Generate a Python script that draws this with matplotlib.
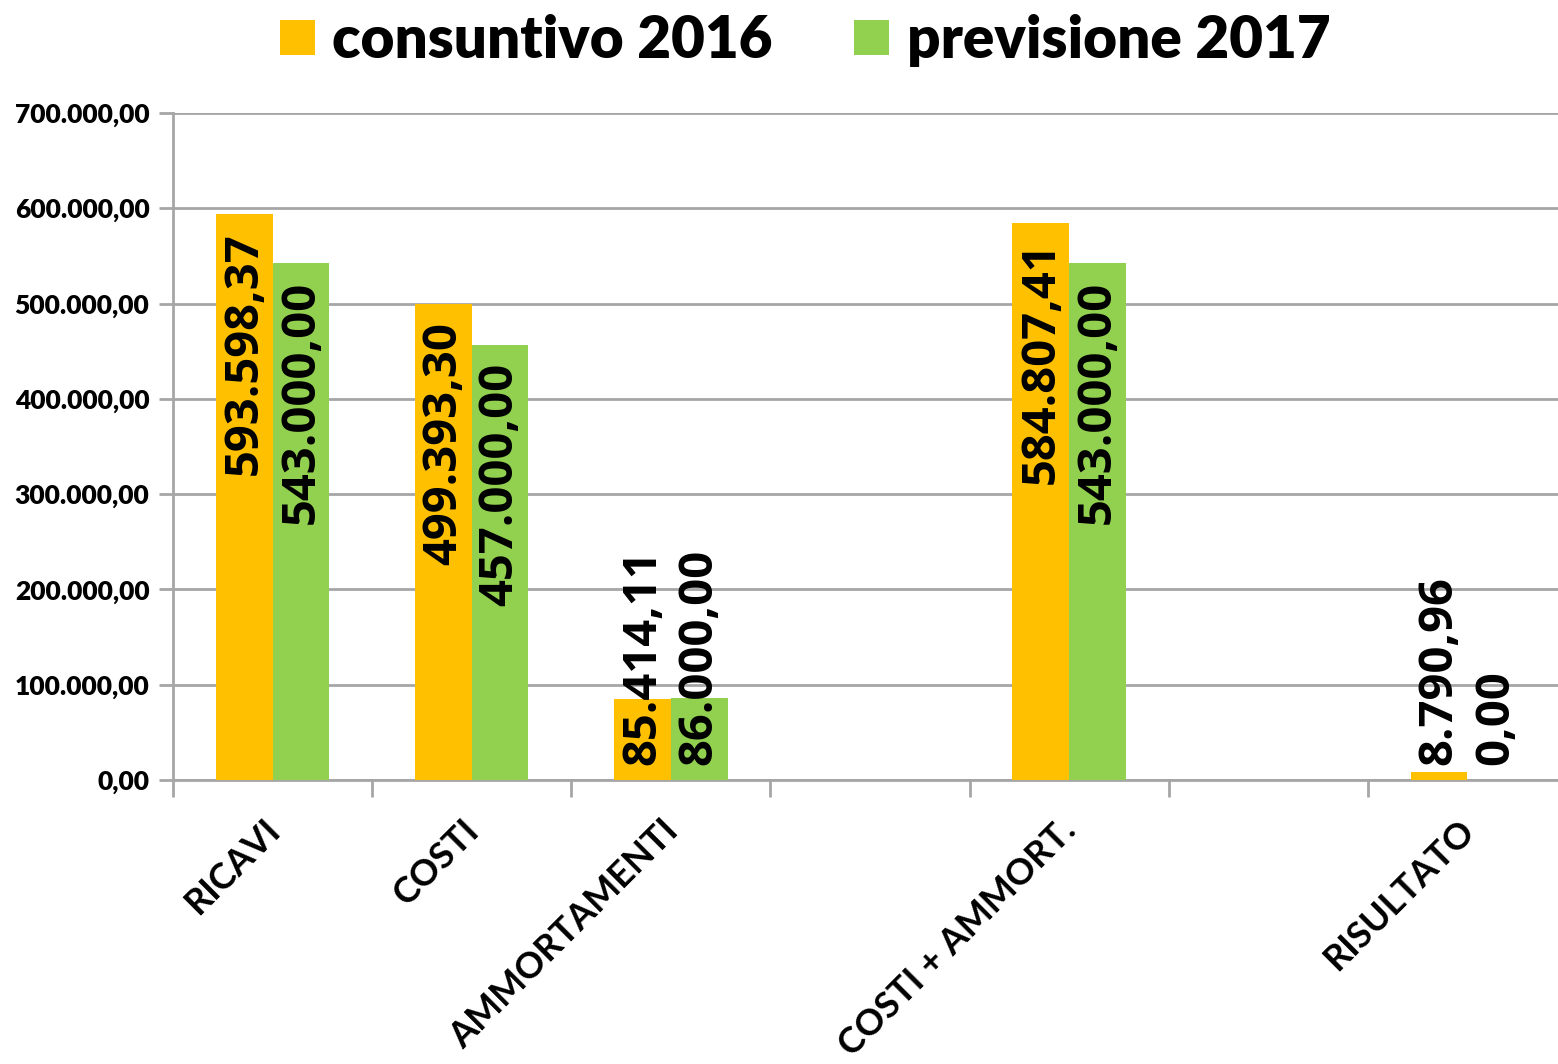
import matplotlib
matplotlib.use("Agg")
import matplotlib.pyplot as plt
from matplotlib.patches import Patch
from matplotlib.ticker import FuncFormatter, FixedLocator
from matplotlib.transforms import ScaledTranslation
import numpy as np

categories = ["RICAVI", "COSTI", "AMMORTAMENTI", "", "COSTI + AMMORT.", "", "RISULTATO"]
consuntivo_2016 = [593598.37, 499393.30, 85414.11, None, 584807.41, None, 8790.96]
previsione_2017 = [543000.00, 457000.00, 86000.00, None, 543000.00, None, 0.00]
series_names = ["consuntivo 2016", "previsione 2017"]
colors = ["#FFC000", "#92D050"]
yticks = [0, 100000, 200000, 300000, 400000, 500000, 600000, 700000]

def it_fmt(v):
    s = f"{v:,.2f}"
    return s.replace(",", "X").replace(".", ",").replace("X", ".")

FONT = "Lato"
LABFONT = "Open Sans"
GRID = "#A6A6A6"

fig = plt.figure(figsize=(15.58, 10.64), dpi=100)
ax = fig.add_axes([173/1558, 1-780/1064, (1567-173)/1558, (780-113)/1064])

x = np.arange(len(categories))
w = 0.285
bars_all = []
for i, (vals, col) in enumerate(zip([consuntivo_2016, previsione_2017], colors)):
    xs = [xi for xi, v in zip(x, vals) if v is not None]
    vs = [v for v in vals if v is not None]
    offs = -w/2 if i == 0 else w/2
    b = ax.bar(np.array(xs) + offs, vs, width=w, color=col, zorder=3)
    bars_all.append((b, vs))

ax.set_xlim(-0.5, len(categories) - 0.5)
ax.set_ylim(0, 700000)
ax.set_yticks(yticks)
ax.yaxis.set_major_formatter(FuncFormatter(lambda v, p: it_fmt(v)))
ax.grid(axis="y", color=GRID, linewidth=2, zorder=0)
ax.set_axisbelow(True)

ax.set_xticks(x)
ax.set_xticklabels(categories, rotation=45, ha="right", rotation_mode="anchor",
                   fontsize=26, fontweight="bold", family=FONT)
ax.tick_params(axis="x", which="major", length=0, pad=24)
shift = ScaledTranslation(-10/100, 0, fig.dpi_scale_trans)
for lab in ax.get_xticklabels():
    lab.set_transform(lab.get_transform() + shift)
ax.xaxis.set_minor_locator(FixedLocator(np.arange(-0.5, len(categories), 1.0)))
ax.tick_params(axis="x", which="minor", length=12, width=2, color=GRID, direction="out")
ax.tick_params(axis="y", length=10, width=2, color=GRID, direction="out", pad=7)
for lab in ax.get_yticklabels():
    lab.set_fontsize(19)
    lab.set_fontweight("heavy")
    lab.set_family(FONT)

for s in ["top", "right"]:
    ax.spines[s].set_visible(False)
ax.spines["left"].set_color(GRID)
ax.spines["left"].set_linewidth(2)
ax.spines["bottom"].set_color(GRID)
ax.spines["bottom"].set_linewidth(2)

# data labels
fig.canvas.draw()
renderer = fig.canvas.get_renderer()
for b, vs in bars_all:
    for rect, v in zip(b, vs):
        cx = rect.get_x() + rect.get_width()/2
        t = ax.annotate(it_fmt(v), (cx, v), xytext=(0, -13), textcoords="offset points",
                        rotation=90, ha="center", va="top", fontsize=34,
                        fontweight="bold", family=LABFONT, zorder=5)
        ext = t.get_window_extent(renderer)
        bar_px = ax.transData.transform((0, v))[1] - ax.transData.transform((0, 0))[1]
        if ext.height + 30 > bar_px:
            t.remove()
            ax.annotate(it_fmt(v), (cx, 0), xytext=(0, 11), textcoords="offset points",
                        rotation=90, ha="center", va="bottom", fontsize=34,
                        fontweight="bold", family=LABFONT, zorder=5)

handles = [Patch(facecolor=c, edgecolor="none") for c in colors]
fig.legend(handles, series_names, loc="upper center", bbox_to_anchor=(805/1558, 1.036), ncol=2,
           frameon=False, prop={"family": FONT, "weight": "heavy", "size": 42},
           handlelength=0.6, handleheight=0.55, handletextpad=0.3, columnspacing=1.4)

fig.savefig("out.png", dpi=100)
